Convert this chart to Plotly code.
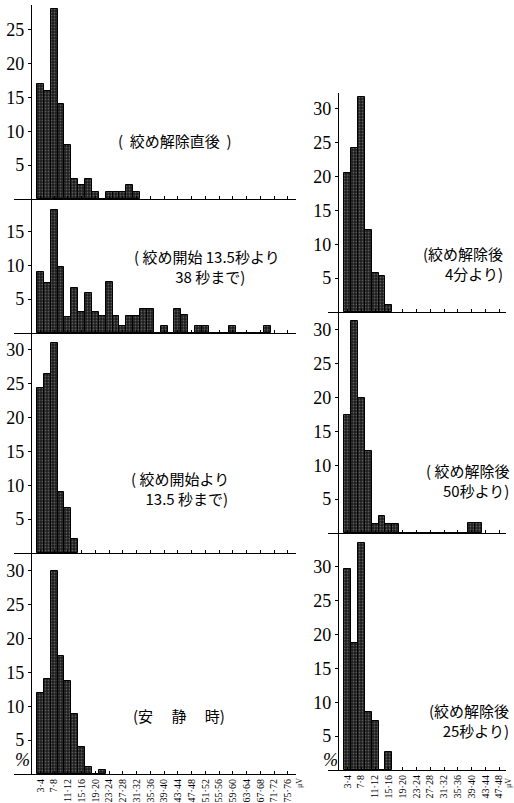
import plotly.graph_objects as go

# ---------------- data (percent of waves per amplitude class, µV) ----------------
left_ticktext = ["3·4", "7·8", "11·12", "15·16", "19·20", "23·24", "27·28", "31·32",
                 "35·36", "39·40", "43·44", "47·48", "51·52", "55·56", "59·60",
                 "63·64", "67·68", "71·72", "75·76"]
right_ticktext = ["3·4", "7·8", "11·12", "15·16", "19·20", "23·24", "27·28", "31·32",
                  "35·36", "39·40", "43·44", "47·48"]

# left column (bins of 2 µV starting with 3-4)
p_release_now = [17, 16, 28, 14, 8, 3, 2, 3, 1, 0, 1, 1, 1, 2, 1]
p_13_38 = [9.0, 7.4, 18.2, 9.8, 2.3, 6.6, 3.1, 5.9, 3.1, 2.5, 7.5, 2.5, 1.0, 2.5,
           2.5, 3.5, 3.5, 0, 1.0, 0, 3.5, 2.6, 0, 1.1, 1.1, 0, 0, 0, 1.1, 0, 0, 0, 0, 1.1]
p_0_13 = [24.3, 26.4, 31.0, 9.0, 6.6, 2.1]
p_rest = [12.0, 14.0, 30.0, 17.5, 13.7, 8.8, 4.0, 1.1, 0, 0.6]
# right column
p_4min = [20.5, 24.2, 31.7, 12.1, 5.7, 5.3, 1.1]
p_50s = [17.4, 31.3, 20.0, 12.1, 1.4, 2.5, 1.4, 1.4, 0, 0, 0, 0, 0, 0, 0, 0, 0, 0, 1.5, 1.5]
p_25s = [29.7, 18.8, 33.5, 8.6, 7.2, 0, 2.6]

labels = {
    "p1": "(  絞め解除直後  )",
    "p2": "( 絞め開始 13.5秒より<br>  38 秒まで)",
    "p3": "( 絞め開始より<br>    13.5 秒まで)",
    "p4": "(安　 静　 時)",
    "p5": "(絞め解除後<br>4分より)",
    "p6": "( 絞め解除後<br>50秒より)",
    "p7": "(絞め解除後<br>25秒より)",
}

# ---------------- layout geometry ----------------
W, H = 514, 803
PXU = 6.77  # pixels per percent unit


def fx(px):
    return px / W


def fy(px):
    return 1 - px / H


BIN0 = 3.5   # centre of the 3-4 µV class
BINW = 2.0

# side geometry: x domain px, y axis px, first bar left edge px, px per µV
sides = {
    "L": dict(x0=14, x1=296, yax=31, edge=37, s=3.435, ticktext=left_ticktext),
    "R": dict(x0=328, x1=506, yax=338, edge=344, s=3.45, ticktext=right_ticktext),
}

panels = [
    dict(key="p1", data=p_release_now, side="L", top=5, bot=199, yt=[5, 10, 15, 20, 25], xl=False,
         ann=(175, 140, "center")),
    dict(key="p2", data=p_13_38, side="L", top=199, bot=333, yt=[5, 10, 15], xl=False,
         ann=(207, 266, "center")),
    dict(key="p3", data=p_0_13, side="L", top=333, bot=553, yt=[5, 10, 15, 20, 25, 30], xl=False,
         ann=(180, 488, "center")),
    dict(key="p4", data=p_rest, side="L", top=553, bot=774, yt=[5, 10, 15, 20, 25, 30], xl=True,
         ann=(179, 715, "center")),
    dict(key="p5", data=p_4min, side="R", top=93, bot=312, yt=[5, 10, 15, 20, 25, 30], xl=False,
         ann=(505, 263, "right")),
    dict(key="p6", data=p_50s, side="R", top=312, bot=533, yt=[5, 10, 15, 20, 25, 30], xl=False,
         ann=(511, 481, "right")),
    dict(key="p7", data=p_25s, side="R", top=533, bot=770, yt=[5, 10, 15, 20, 25, 30], xl=True,
         ann=(511, 720, "right")),
]

fig = go.Figure()
layout = dict(width=W, height=H, margin=dict(l=0, r=0, t=0, b=0),
              paper_bgcolor="white", plot_bgcolor="white", showlegend=False,
              bargap=0, annotations=[])

serif = "Liberation Serif"
cjk = "Noto Sans CJK JP"

for i, p in enumerate(panels, start=1):
    sd = sides[p["side"]]
    xs = [BIN0 + BINW * k for k in range(len(p["data"]))]
    xname = "x" if i == 1 else f"x{i}"
    yname = "y" if i == 1 else f"y{i}"
    fig.add_trace(go.Bar(
        x=xs, y=p["data"], width=BINW, xaxis=xname, yaxis=yname,
        marker=dict(color="#1c1c1c", line=dict(color="black", width=1),
                    pattern=dict(shape=".", fgcolor="#9a9a9a", size=3, solidity=0.3,
                                 fillmode="overlay")),
        hoverinfo="skip"))
    lo = BIN0 - BINW / 2
    r0 = lo - (sd["edge"] - sd["x0"]) / sd["s"]
    r1 = lo + (sd["x1"] - sd["edge"]) / sd["s"]
    tickvals = [BIN0 + 4 * k for k in range(len(sd["ticktext"]))]
    xa = dict(domain=[fx(sd["x0"]), fx(sd["x1"])], range=[r0, r1], anchor=yname,
              showline=True, linecolor="black", linewidth=1.2, showgrid=False,
              zeroline=False, ticks="inside", ticklen=3, tickcolor="black",
              tickvals=tickvals, ticktext=sd["ticktext"], showticklabels=p["xl"],
              tickangle=-90, tickfont=dict(family=serif, size=10, color="black"),
              fixedrange=True)
    ya = dict(domain=[fy(p["bot"]), fy(p["top"])], range=[0, (p["bot"] - p["top"]) / PXU],
              anchor="free", position=fx(sd["yax"]), showline=True, linecolor="black",
              linewidth=1.2, showgrid=False, zeroline=False, ticks="outside", ticklen=3,
              tickcolor="black", tickvals=p["yt"], ticktext=[str(v) for v in p["yt"]],
              tickfont=dict(family=serif, size=18, color="black"), fixedrange=True)
    layout["xaxis" if i == 1 else f"xaxis{i}"] = xa
    layout["yaxis" if i == 1 else f"yaxis{i}"] = ya
    ax, ay, al = p["ann"]
    layout["annotations"].append(dict(
        text=labels[p["key"]], xref="paper", yref="paper", x=fx(ax), y=fy(ay),
        xanchor=al, yanchor="middle", align=al, showarrow=False,
        font=dict(family=cjk, size=15, color="black")))

# unit labels
for (ux, uy) in [(22, 760), (330, 760)]:
    layout["annotations"].append(dict(
        text="<i>%</i>", xref="paper", yref="paper", x=fx(ux), y=fy(uy),
        xanchor="center", yanchor="middle", showarrow=False,
        font=dict(family=serif, size=18, color="black")))
for (ux, uy) in [(299, 776), (508, 776)]:
    layout["annotations"].append(dict(
        text="μV", xref="paper", yref="paper", x=fx(ux), y=fy(uy),
        xanchor="center", yanchor="top", textangle=-90, showarrow=False,
        font=dict(family=serif, size=8, color="black")))

fig.update_layout(**layout)
fig.write_html("out.html")
